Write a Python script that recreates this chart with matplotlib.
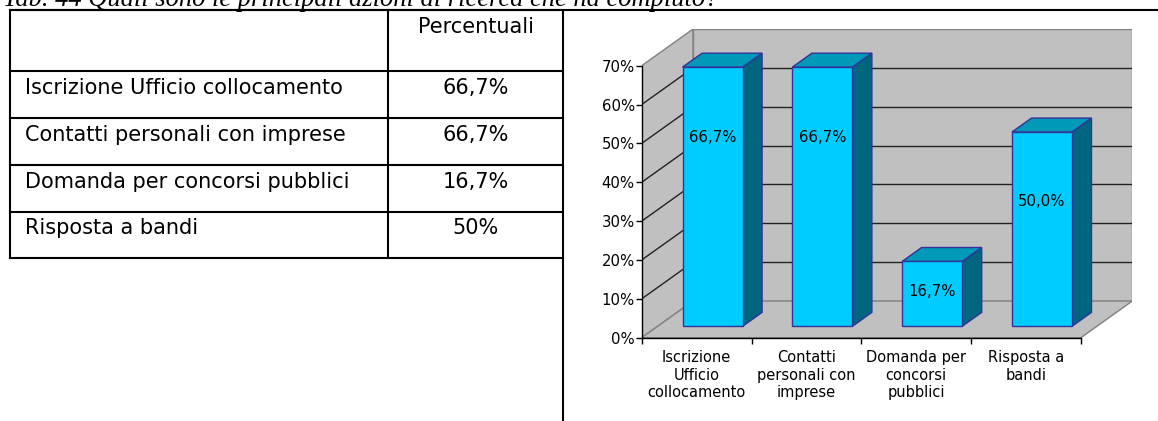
import matplotlib
matplotlib.use("Agg")
import matplotlib.pyplot as plt
from matplotlib.patches import Polygon

# ---------------- data ----------------
title = "Tab. 44 Quali sono le principali azioni di ricerca che ha compiuto?"
header = "Percentuali"
table_categories = ["Iscrizione Ufficio collocamento",
                    "Contatti personali con imprese",
                    "Domanda per concorsi pubblici",
                    "Risposta a bandi"]
chart_categories = ["Iscrizione\nUfficio\ncollocamento",
                    "Contatti\npersonali con\nimprese",
                    "Domanda per\nconcorsi\npubblici",
                    "Risposta a\nbandi"]
values = [66.7, 66.7, 16.7, 50.0]
y_ticks = [0, 10, 20, 30, 40, 50, 60, 70]


def it_pct(v, decimals=1):
    return f"{v:.{decimals}f}".replace(".", ",") + "%"


def table_pct(v):
    return it_pct(v, 0) if float(v).is_integer() else it_pct(v, 1)


# ---------------- figure ----------------
W, H = 1158, 421
fig = plt.figure(figsize=(W / 100, H / 100), dpi=100)
fig.patch.set_facecolor("white")

# background axes in pixel coordinates (frame, table, title)
bg = fig.add_axes([0, 0, 1, 1])
bg.set_xlim(0, W)
bg.set_ylim(H, 0)
bg.axis("off")

lw_tab = 1.5
# title (partly cut off at the top, as in the source)
bg.text(3, 6.5, title, family="Liberation Serif", style="italic", fontsize=19.1,
        va="baseline", ha="left", color="black")

# outer frame lines
bg.plot([10, W], [10, 10], color="black", lw=lw_tab, solid_capstyle="butt")
bg.plot([563.3, 563.3], [10, H], color="black", lw=lw_tab, solid_capstyle="butt")

# inner table
row_lines = [10, 71, 118.3, 164.5, 211.5, 258.3]
for yy in row_lines:
    bg.plot([10, 563.3], [yy, yy], color="black", lw=lw_tab, solid_capstyle="projecting")
for xx in [10, 388.3]:
    bg.plot([xx, xx], [10, 258.3], color="black", lw=lw_tab, solid_capstyle="projecting")

tab_font = dict(family="DejaVu Sans", fontsize=15, va="baseline", color="black")
bg.text(475.8, row_lines[0] + 23, header, ha="center", **tab_font)
for i, (cat, v) in enumerate(zip(table_categories, values)):
    top = row_lines[i + 1]
    bg.text(25, top + 23, cat, ha="left", **tab_font)
    bg.text(475.8, top + 23, table_pct(v), ha="center", **tab_font)

# ---------------- 3D-look bar chart ----------------
N = len(values)
DX, DY = 0.468, 9.44          # depth offset (category units, percent units)
F1, F2 = 0.31, 0.69           # bar front / back depth fractions
BW = 0.547                    # bar width in category units
ymax = y_ticks[-1]

x0_px, x1_px = 641.7, 1132.3
y0_px, y1_px = 337.7, 29.0
ax = fig.add_axes([x0_px / W, (H - y0_px) / H, (x1_px - x0_px) / W, (y0_px - y1_px) / H])
ax.set_xlim(0, N + DX)
ax.set_ylim(0, ymax + DY)
ax.patch.set_visible(False)

wall_c = "#C0C0C0"
edge_c = "#808080"
grid_c = "#222222"

# left wall
ax.add_patch(Polygon([(0, 0), (0, ymax), (DX, ymax + DY), (DX, DY)], closed=True,
                     facecolor=wall_c, edgecolor=edge_c, lw=1.0, zorder=1))
# back wall
ax.add_patch(Polygon([(DX, DY), (DX, ymax + DY), (N + DX, ymax + DY), (N + DX, DY)], closed=True,
                     facecolor=wall_c, edgecolor=edge_c, lw=1.0, zorder=1))
# floor
ax.add_patch(Polygon([(0, 0), (N, 0), (N + DX, DY), (DX, DY)], closed=True,
                     facecolor=wall_c, edgecolor=edge_c, lw=1.0, zorder=1))

# gridlines
for t in y_ticks[1:-1]:
    ax.plot([0, DX], [t, t + DY], color=grid_c, lw=1.0, zorder=2)
    ax.plot([DX, N + DX], [t + DY, t + DY], color=grid_c, lw=1.0, zorder=2)

# bars
front_c = "#00CCFF"
top_c = "#0099B8"
side_c = "#006680"
bar_edge = "#333399"
for i, v in enumerate(values):
    xl = i + 0.5 - BW / 2 + F1 * DX
    xr = xl + BW
    yb = F1 * DY
    yt = v + F1 * DY
    ddx = (F2 - F1) * DX
    ddy = (F2 - F1) * DY
    # side face
    ax.add_patch(Polygon([(xr, yb), (xr + ddx, yb + ddy), (xr + ddx, yt + ddy), (xr, yt)],
                         closed=True, facecolor=side_c, edgecolor=bar_edge, lw=1.0, zorder=3))
    # top face
    ax.add_patch(Polygon([(xl, yt), (xr, yt), (xr + ddx, yt + ddy), (xl + ddx, yt + ddy)],
                         closed=True, facecolor=top_c, edgecolor=bar_edge, lw=1.0, zorder=3))
    # front face
    ax.add_patch(Polygon([(xl, yb), (xr, yb), (xr, yt), (xl, yt)],
                         closed=True, facecolor=front_c, edgecolor=bar_edge, lw=1.0, zorder=4))
    # value label
    ly = v - 18 if v > 36 else v * 0.53
    ax.text((xl + xr) / 2, ly + yb, it_pct(v), ha="center", va="center",
            fontsize=10.7, family="DejaVu Sans", color="black", zorder=5)

# axes
for s in ["top", "right"]:
    ax.spines[s].set_visible(False)
ax.spines["left"].set_bounds(0, ymax)
ax.spines["bottom"].set_bounds(0, N)
for s in ["left", "bottom"]:
    ax.spines[s].set_color("black")
    ax.spines[s].set_linewidth(1.0)
    ax.spines[s].set_zorder(6)

ax.set_yticks(y_ticks)
ax.set_yticklabels([f"{t}%" for t in y_ticks])
ax.tick_params(axis="y", direction="out", length=4, width=1.0, pad=1,
               labelsize=10.7, colors="black")
ax.set_xticks(range(N + 1))
ax.set_xticklabels([""] * (N + 1))
ax.set_xticks([i + 0.5 for i in range(N)], minor=True)
ax.set_xticklabels(chart_categories, minor=True, fontsize=10.5, family="DejaVu Sans")
ax.tick_params(axis="x", which="major", direction="out", length=4, width=1.0)
ax.tick_params(axis="x", which="minor", length=0, pad=9)

fig.savefig("out.png", dpi=100, facecolor="white")
